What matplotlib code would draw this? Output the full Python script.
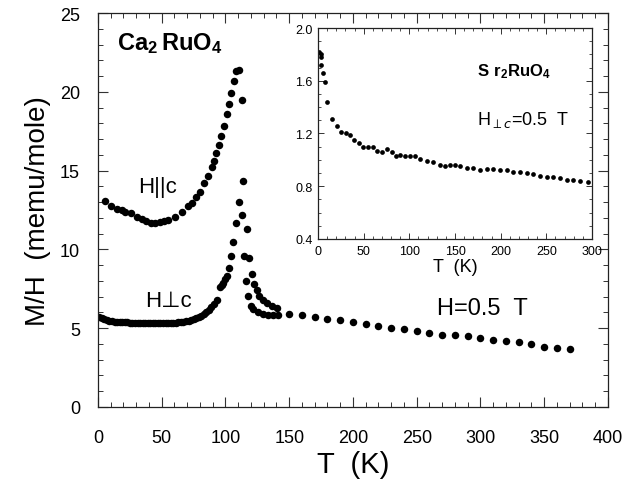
import matplotlib
matplotlib.use("Agg")
import matplotlib.pyplot as plt
from matplotlib.ticker import MultipleLocator

plt.rcParams['font.family'] = ['Liberation Sans', 'DejaVu Sans']
plt.rcParams['mathtext.fontset'] = 'custom'
plt.rcParams['mathtext.rm'] = 'Liberation Sans'
plt.rcParams['mathtext.bf'] = 'Liberation Sans:bold'

# Ca2RuO4, field parallel to c
par_T = [5.5, 10, 15, 18.6, 21.4, 25.6, 30.3, 34.3, 37.6, 41.3, 45, 48.6, 51.5, 55.2,
         60.4, 65.9, 70.3, 74, 76.9, 80, 82.9, 86.5, 89.1, 91, 92.5, 94.7, 96.7, 98.8,
         100.9, 102.7, 104.6, 106.4, 108.2, 110.6, 112.7, 114.0, 113.0, 116.9, 118.7,
         120.5, 122.4, 124.5, 126.5, 129.1, 132.3, 136.2, 140.6]
par_M = [13.1, 12.75, 12.56, 12.5, 12.4, 12.3, 12.03, 11.9, 11.78, 11.65, 11.65, 11.72,
         11.78, 11.84, 12.03, 12.35, 12.73, 12.94, 13.3, 13.66, 14.2, 14.68, 15.2, 15.6,
         16.1, 16.65, 17.2, 17.8, 18.57, 19.2, 19.95, 20.7, 21.3, 21.4, 19.5, 14.34, 12.2,
         11.27, 9.43, 8.42, 7.8, 7.4, 7.06, 6.81, 6.6, 6.43, 6.26]

# Ca2RuO4, field perpendicular to c
perp_T = [1, 3, 5, 7, 9, 11, 13, 15, 17, 19, 21, 23, 25, 27, 29, 31, 33, 35, 37, 39,
          41, 43, 45, 47, 49, 51, 53, 55, 57, 59, 61, 63, 65, 67, 69, 71, 73, 75, 77,
          79, 81, 83, 85, 87, 89, 91, 93, 95.7, 97, 98.3, 99.5, 100.9, 102.5, 104.4,
          106.2, 108.3, 110.6, 114.3, 116.4, 117.9, 119.7, 121.8, 125.7, 129.6, 133.6,
          137.5, 141.4]
perp_M = [5.70, 5.66, 5.60, 5.52, 5.47, 5.44, 5.41, 5.40, 5.39, 5.38, 5.37, 5.37, 5.36,
          5.36, 5.35, 5.35, 5.34, 5.34, 5.33, 5.33, 5.33, 5.33, 5.33, 5.33, 5.33, 5.33,
          5.34, 5.34, 5.34, 5.35, 5.36, 5.37, 5.39, 5.41, 5.44, 5.47, 5.52, 5.57, 5.63,
          5.70, 5.79, 5.90, 6.02, 6.16, 6.32, 6.52, 6.78, 7.60, 7.75, 7.87, 8.10, 8.33,
          8.80, 9.60, 10.50, 11.68, 13.03, 9.60, 8.02, 7.06, 6.43, 6.20, 6.00, 5.90,
          5.86, 5.84, 5.82]

# high temperature points
high_T = [150, 160, 170, 180, 190, 200, 210, 220, 230, 240, 250, 260, 270, 280, 290,
          300, 310, 320, 330, 340, 350, 360, 370]
high_M = [5.90, 5.82, 5.70, 5.58, 5.50, 5.42, 5.29, 5.12, 5.01, 4.93, 4.80, 4.70, 4.59,
          4.55, 4.49, 4.38, 4.25, 4.17, 4.12, 4.00, 3.83, 3.76, 3.68]

# Sr2RuO4 inset
sr_T = [1.4, 2.9, 3.3, 3.6, 5.1, 7.7, 10.2, 15.7, 20.5, 25.2, 30.7, 35, 39.8, 45.2,
        49.7, 55.2, 60, 65, 69.8, 75.9, 80.7, 85.4, 89.8, 95.3, 100.8, 106.2, 111.7,
        119, 126.3, 133.6, 139, 144.5, 150, 155.5, 162.8, 170, 177.4, 184.7, 192,
        199.3, 206.7, 214, 221, 228.5, 235.8, 243, 250.3, 257.6, 265, 272.3, 279.6,
        287, 296]
sr_M = [1.82, 1.80, 1.78, 1.72, 1.66, 1.59, 1.44, 1.31, 1.26, 1.21, 1.20, 1.19, 1.15,
        1.13, 1.10, 1.10, 1.10, 1.07, 1.06, 1.08, 1.06, 1.03, 1.04, 1.03, 1.03, 1.03,
        1.01, 0.99, 0.98, 0.96, 0.95, 0.96, 0.96, 0.95, 0.94, 0.94, 0.92, 0.93, 0.93,
        0.92, 0.92, 0.91, 0.91, 0.90, 0.89, 0.88, 0.87, 0.87, 0.86, 0.85, 0.85, 0.84,
        0.83]

fig = plt.figure(figsize=(6.29, 4.85), dpi=100)
ax = fig.add_axes([0.1558, 0.1588, 0.8108, 0.8123])

for T, M in [(par_T, par_M), (perp_T, perp_M), (high_T, high_M)]:
    ax.plot(T, M, 'o', color='black', ms=5.4, mec='black', mew=0)

ax.set_xlim(0, 400)
ax.set_ylim(0, 25)
ax.xaxis.set_major_locator(MultipleLocator(50))
ax.xaxis.set_minor_locator(MultipleLocator(10))
ax.yaxis.set_major_locator(MultipleLocator(5))
ax.yaxis.set_minor_locator(MultipleLocator(1))
ax.tick_params(which='both', direction='in', top=True, right=True, color='#333')
ax.tick_params(which='major', length=7, width=0.8, labelsize=13, pad=13)
ax.tick_params(axis='x', which='major', pad=16)
ax.tick_params(which='minor', length=3.5, width=0.7)
for s in ax.spines.values():
    s.set_linewidth(0.9)
    s.set_color('#222')

ax.set_xlabel('T  (K)', fontsize=21, labelpad=3)
ax.set_ylabel('M/H  (memu/mole)', fontsize=20, labelpad=6)

ax.text(15, 22.7, r'$\mathbf{Ca_{2}\,RuO_{4}}$', fontsize=17)
ax.text(31.1, 13.62, 'H||c', fontsize=16)
ax.text(36.9, 6.43, 'H\u22a5c', fontsize=16)
ax.text(265.6, 5.9, 'H=0.5  T', fontsize=17)

# inset
axi = fig.add_axes([0.5056, 0.5052, 0.4356, 0.4350])
axi.plot(sr_T, sr_M, 'o', color='black', ms=3.4, mew=0)
axi.set_xlim(0, 300)
axi.set_ylim(0.4, 2.0)
axi.xaxis.set_major_locator(MultipleLocator(50))
axi.xaxis.set_minor_locator(MultipleLocator(10))
axi.yaxis.set_major_locator(MultipleLocator(0.4))
axi.yaxis.set_minor_locator(MultipleLocator(0.1))
axi.tick_params(which='both', direction='in', top=True, right=True, color='#333')
axi.tick_params(which='major', length=4, width=0.7, labelsize=9, pad=4)
axi.tick_params(which='minor', length=2, width=0.6)
for s in axi.spines.values():
    s.set_linewidth(0.9)
    s.set_color('#222')
axi.set_xlabel('T  (K)', fontsize=13, labelpad=1)

axi.text(173.8, 1.638, r'$\mathbf{S\ r_{2}RuO_{4}}$', fontsize=12)
axi.text(173.8, 1.272, r'H$_{\perp c}$=0.5  T', fontsize=13)

fig.savefig('out.png', dpi=100)
